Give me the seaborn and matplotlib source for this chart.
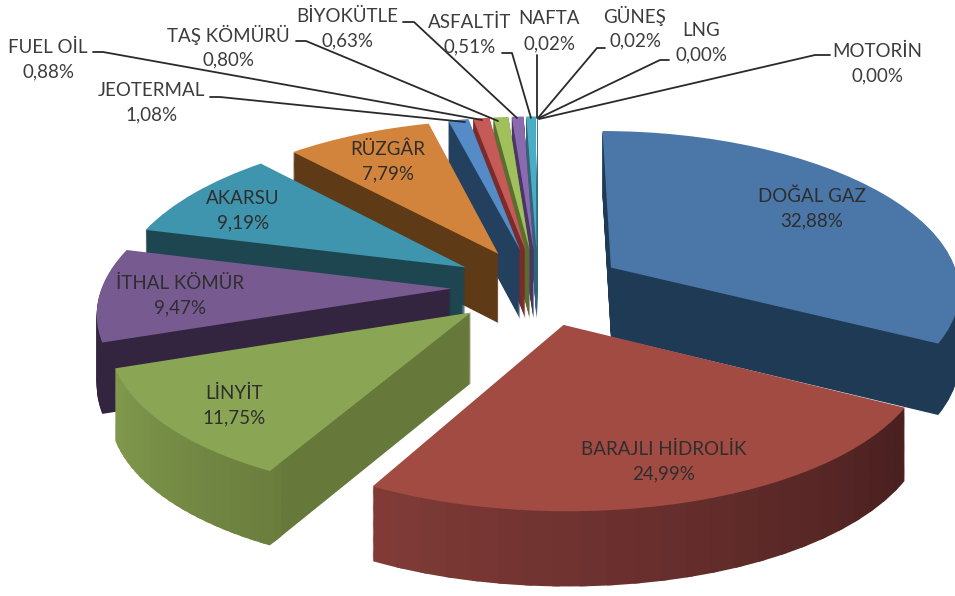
import numpy as np
import matplotlib
matplotlib.use("Agg")
import matplotlib.pyplot as plt
from matplotlib.patches import Wedge
from matplotlib.transforms import Transform
from matplotlib.colors import to_rgb
import seaborn as sns

# ---- data ----
categories = ["DOĞAL GAZ", "BARAJLI HİDROLİK", "LİNYİT", "İTHAL KÖMÜR", "AKARSU", "RÜZGÂR",
              "JEOTERMAL", "FUEL OİL", "TAŞ KÖMÜRÜ", "BİYOKÜTLE", "ASFALTİT", "NAFTA",
              "GÜNEŞ", "LNG", "MOTORİN"]
shares = [32.88, 24.99, 11.75, 9.47, 9.19, 7.79, 1.08, 0.88, 0.80, 0.63, 0.51, 0.02, 0.02, 0.00, 0.00]
share_labels = ["32,88%", "24,99%", "11,75%", "9,47%", "9,19%", "7,79%", "1,08%", "0,88%", "0,80%",
                "0,63%", "0,51%", "0,02%", "0,02%", "0,00%", "0,00%"]
top_colors = ["#4a76a8", "#a24b43", "#8aa553", "#775a90", "#3f95ad", "#d2843c", "#558cc8", "#c65a56",
              "#a0c05c", "#8a6bb0", "#4bacc6", "#4bacc6", "#4bacc6", "#4bacc6", "#4bacc6"]
side_colors = ["#1f3a55", "#4a2020", "#66783a", "#33243f", "#1d4650", "#5f3a17", "#24405f", "#7a2b2a",
               "#5a6e30", "#4a3566", "#2e6475", "#2e6475", "#2e6475", "#2e6475", "#2e6475"]
rim_colors = {1: ("#803b37", "#4a2020"), 2: ("#809a4d", "#6c7f3e")}
stacking = [0, 14, 13, 12, 11, 10, 9, 8, 7, 6, 5, 4, 3, 2, 1]

# ---- layout ----
label_xy = {0: (812, 196), 1: (664, 449), 2: (234, 393), 3: (180, 283), 4: (243, 198), 5: (388, 149),
            6: (151, 90), 7: (48, 47), 8: (228, 35), 9: (347, 16), 10: (470, 22), 11: (549, 19),
            12: (635, 16), 13: (701, 30), 14: (877, 51)}
leaders = {6: [(210, 97), (220, 97), (465, 122)], 7: [(93, 52), (103, 52), (482, 120)],
           8: [(296, 41), (306, 41), (498, 121)], 9: [(403, 22), (414, 22), (517, 118)],
           10: [(502, 53), (512, 53), (531, 118)], 11: [(537, 55), (537, 118)],
           12: [(605, 48), (597, 48), (538, 118)], 13: [(669, 60), (660, 60), (539, 118)],
           14: [(830, 55), (815, 55), (539, 119)]}
CX, CY, SCALE_X, PERSP_X, SCALE_Y, PERSP, DEPTH, PERSP_Z = 538, 287, 372, 0.14, 166, 0.12, 70, 0.06
RADIUS = 0.94
EXPLODE = 0.232
N_LAYERS = 70


class Perspective(Transform):
    input_dims = output_dims = 2
    is_separable = False
    has_inverse = False

    def __init__(self, z):
        super().__init__()
        self.z = z

    def transform_non_affine(self, values):
        v = np.asarray(values, float)
        px = 1 + PERSP_X * v[:, 1]
        p = 1 + PERSP * v[:, 1]
        q = 1 + PERSP_Z * v[:, 1]
        return np.column_stack([CX + SCALE_X * v[:, 0] / px,
                                CY - SCALE_Y * v[:, 1] / p + self.z * DEPTH / q])


sns.set_theme(style="white")
plt.rcParams["font.family"] = ["Lato", "DejaVu Sans"]
fig = plt.figure(figsize=(9.55, 5.96), dpi=100)
ax = fig.add_axes([0, 0, 1, 1])
order_of = {s: i for i, s in enumerate(stacking)}


def draw_layer(colors, z, level):
    wedges, _ = ax.pie(shares, explode=[EXPLODE] * len(shares), colors=colors, startangle=90,
                       radius=RADIUS, counterclock=False, wedgeprops={"linewidth": 0})
    tr = Perspective(z) + ax.transData
    for i, w in enumerate(wedges):
        w.set_transform(tr)
        w.set_zorder(order_of[i] * 1000 + level)
        if z > 0 and i in rim_colors:
            w.set_radius(RADIUS - 0.02)
            a, b = np.array(to_rgb(rim_colors[i][0])), np.array(to_rgb(rim_colors[i][1]))
            edges = np.linspace(w.theta1, w.theta2, 25)
            for j in range(24):
                t = j / 23
                end = min(edges[j + 1] + 1.0, w.theta2)
                rim = Wedge(w.center, RADIUS, edges[j], end, width=0.05, linewidth=0,
                            facecolor=a + (b - a) * t)
                ax.add_patch(rim)
                rim.set_transform(tr)
                rim.set_zorder(order_of[i] * 1000 + level + 0.5)


for k in range(N_LAYERS, 0, -1):
    draw_layer(side_colors, k / N_LAYERS, N_LAYERS - k)
draw_layer(top_colors, 0, N_LAYERS + 1)

for i, pts in leaders.items():
    xs, ys = zip(*pts)
    ax.plot(xs, ys, color="#2a2a2a", lw=1.3, zorder=50000)

for i, (x, y) in label_xy.items():
    c = "#2e2e2e" if i < 6 else "#3c3c3c"
    ax.text(x, y, categories[i], ha="center", va="center", fontsize=13.5, color=c, zorder=60000)
    ax.text(x, y + 25, share_labels[i], ha="center", va="center", fontsize=13.5, color=c, zorder=60000)

ax.set_aspect("auto")
ax.set_xlim(0, 955)
ax.set_ylim(596, 0)
ax.axis("off")
fig.savefig("out.png", dpi=100, facecolor="white")
